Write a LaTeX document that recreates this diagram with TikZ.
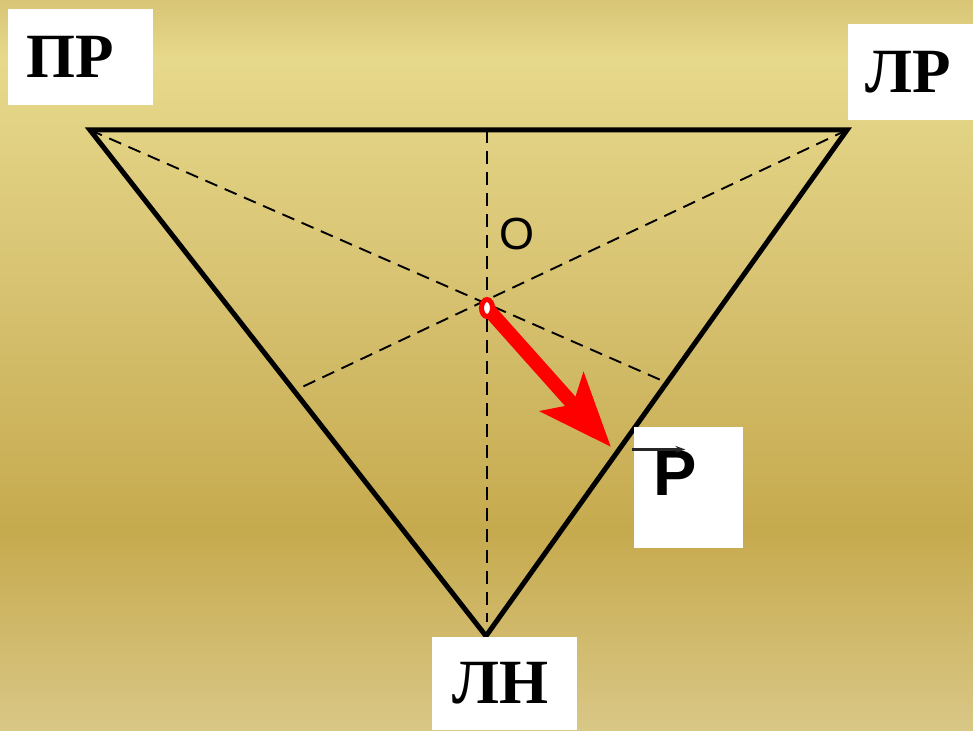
\documentclass[tikz,border=0pt]{standalone}
\usepackage{fontspec}
\setmainfont{Liberation Serif}
\newfontfamily\arialfont{Liberation Sans}
\usetikzlibrary{arrows.meta, shapes.geometric}
\definecolor{sandtop}{RGB}{216,197,118}
\definecolor{sandlight}{RGB}{231,217,139}
\definecolor{sandmid}{RGB}{214,193,112}
\definecolor{sanddark}{RGB}{198,170,78}
\definecolor{sandbottom}{RGB}{217,199,134}
\definecolor{forcered}{RGB}{255,0,0}
\pgfdeclareverticalshading{sandbg}{100bp}{color(0bp)=(sandbottom); color(25bp)=(sandbottom); color(38.7bp)=(sanddark); color(54.5bp)=(sandmid); color(70.9bp)=(sandlight); color(75bp)=(sandtop); color(100bp)=(sandtop)}
\tikzset{
	edge/.style={line width=5pt, line join=miter, draw=black},
	median/.style={line width=1.9pt, dash pattern=on 13pt off 8pt, draw=black},
	card/.style={rectangle, fill=white, inner sep=0pt},
	cyr/.style={font=\bfseries\fontsize{63}{70}\selectfont, inner sep=0pt},
	latin/.style={font=\arialfont\fontsize{45}{50}\selectfont, inner sep=0pt},
	force/.style={-{Stealth[length=73pt, width=57pt, inset=16pt]}, line width=14pt, draw=forcered},
	pivot/.style={ellipse, draw=forcered, fill=white, line width=5pt, minimum width=11pt, minimum height=17pt, inner sep=0pt},
	vecarrow/.style={-{Stealth[length=10pt, width=7pt]}, line width=2.2pt, draw=black!85},
}

\begin{document}
\begin{tikzpicture}[x=1pt, y=-1pt]
	\shade[shading=sandbg] (0,0) rectangle (973,730);
	% triangle and its medians
	\coordinate (PRv) at (90,130);
	\coordinate (LRv) at (847,130);
	\coordinate (LNv) at (486,636);
	\coordinate (Tmid) at (487,130);
	\coordinate (Lfoot) at (300,388);
	\coordinate (Rfoot) at (663,381);
	\coordinate (Bfoot) at (487,622);
	\coordinate (O) at (487,308);
	\coordinate (Ptip) at (611,447);
	\draw[median] (Tmid) -- (Bfoot);
	\draw[median] (PRv) -- (Rfoot);
	\draw[median] (LRv) -- (Lfoot);
	\draw[edge] (PRv) -- (LRv) -- (LNv) -- cycle;
	% force vector
	\draw[force] (O) -- (Ptip);
	\node[pivot] (Odot) at (O) {};
	\node[latin] (Olabel) at (517,234) {O};
	% labels
	\node[card, minimum width=145pt, minimum height=96pt] (PRcard) at (80.5,57) {};
	\node[cyr] (PR) at ([xshift=-10pt]PRcard.center) {ПР};
	\node[card, minimum width=125pt, minimum height=96pt] (LRcard) at (910.5,72) {};
	\node[cyr] (LR) at ([xshift=-2pt]LRcard.center) {ЛР};
	\node[card, minimum width=145pt, minimum height=93pt] (LNcard) at (504.5,683.5) {};
	\node[cyr] (LN) at ([xshift=-4pt]LNcard.center) {ЛН};
	\node[card, minimum width=109pt, minimum height=121pt] (Pcard) at (688.5,487.5) {};
	\node[latin, font=\arialfont\bfseries\fontsize{65}{70}\selectfont] (P) at ([xshift=-13pt, yshift=14.5pt]Pcard.center) {P};
	\draw[vecarrow] ([xshift=-22pt, yshift=1pt]P.north west) -- ([xshift=-12pt, yshift=1pt]P.north east);
\end{tikzpicture}
\end{document}
